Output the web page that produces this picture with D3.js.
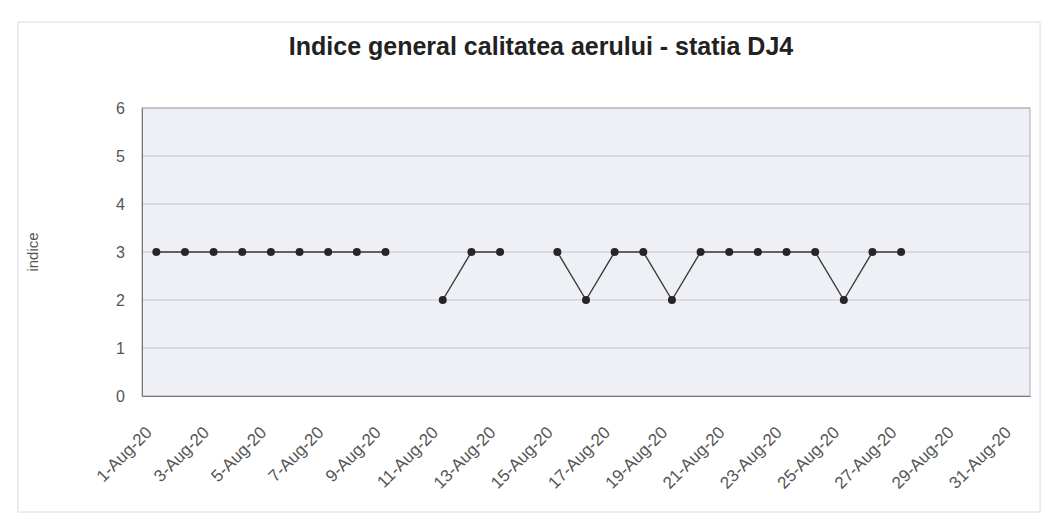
<!DOCTYPE html>
<html>
<head>
<meta charset="utf-8">
<script src="https://cdn.jsdelivr.net/npm/d3@7"></script>
<style>
  body { margin: 0; background: #fff; }
  svg { display: block; }
</style>
</head>
<body>
<div id="chart"></div>
<script>
// days of august 2020, null = no measurement
var days = d3.range(1, 32);
var dayLabels = days.map(function(d) { return d + "-Aug-20"; });
var indexValues = [3, 3, 3, 3, 3, 3, 3, 3, 3, null,
                   2, 3, 3, null, 3, 2, 3, 3, 2, 3,
                   3, 3, 3, 3, 2, 3, 3, null, null, null, null];
var yTicks = [0, 1, 2, 3, 4, 5, 6];

var width = 1049, height = 527;
var margin = { top: 108, right: 19, bottom: 131, left: 142 };
var plotW = width - margin.left - margin.right,
  plotH = height - margin.top - margin.bottom;

var svg = d3.select("#chart").append("svg")
  .attr("width", width)
  .attr("height", height);

// faint outer frame
svg.append("rect")
  .attr("x", 18).attr("y", 22)
  .attr("width", 1022).attr("height", 490)
  .attr("fill", "none")
  .attr("stroke", "#dcdcdc")
  .attr("stroke-width", 1);

svg.append("text")
  .attr("x", 541)
  .attr("y", 55)
  .attr("text-anchor", "middle")
  .attr("font-family", "Liberation Sans, Arial, sans-serif")
  .attr("font-weight", "bold")
  .attr("font-size", 25)
  .attr("fill", "#222")
  .text("Indice general calitatea aerului -  statia DJ4");

var g = svg.append("g")
  .attr("transform", "translate(" + margin.left + "," + margin.top + ")");

var x = d3.scaleBand()
  .domain(dayLabels)
  .range([0, plotW])
  .padding(0);

var y = d3.scaleLinear()
  .domain([0, 6])
  .range([plotH, 0]);

g.append("rect")
  .attr("width", plotW)
  .attr("height", plotH)
  .attr("fill", "#eef0f5");

g.selectAll("line.grid")
  .data(yTicks.slice(1))
  .enter().append("line")
  .attr("class", "grid")
  .attr("x1", 0).attr("x2", plotW)
  .attr("y1", function(d) { return y(d); })
  .attr("y2", function(d) { return y(d); })
  .attr("stroke", "#c4c6cc")
  .attr("stroke-width", 1);

g.append("rect")
  .attr("width", plotW)
  .attr("height", plotH)
  .attr("fill", "none")
  .attr("stroke", "#a9abb0")
  .attr("stroke-width", 1);

// y axis
var yAxis = g.append("g")
  .call(d3.axisLeft(y).tickValues(yTicks).tickFormat(d3.format("d")).tickSize(0).tickPadding(17));
yAxis.select(".domain").attr("stroke", "#777");
yAxis.selectAll("text")
  .attr("font-family", "Liberation Sans, Arial, sans-serif")
  .attr("font-size", 16)
  .attr("fill", "#555");

svg.append("text")
  .attr("transform", "translate(38," + (margin.top + plotH / 2) + ") rotate(-90)")
  .attr("text-anchor", "middle")
  .attr("font-family", "Liberation Sans, Arial, sans-serif")
  .attr("font-size", 15)
  .attr("fill", "#555")
  .text("indice");

// x axis, every second day labelled
var xAxis = g.append("g")
  .attr("transform", "translate(0," + plotH + ")")
  .call(d3.axisBottom(x)
    .tickValues(dayLabels.filter(function(d, i) { return i % 2 == 0; }))
    .tickSize(0));
xAxis.select(".domain").attr("stroke", "#777");
xAxis.selectAll(".tick")
  .attr("transform", function(d) { return "translate(" + (x(d) + x.bandwidth() / 2) + ",0)"; });
xAxis.selectAll("text")
  .attr("font-family", "Liberation Sans, Arial, sans-serif")
  .attr("font-size", 17)
  .attr("fill", "#555")
  .style("text-anchor", "end")
  .attr("x", 0)
  .attr("y", 0)
  .attr("dy", "0.71em")
  .attr("transform", "translate(-12,29) rotate(-45)");

var pts = days.map(function(d, i) {
  return { label: dayLabels[i], value: indexValues[i] };
});

var line = d3.line()
  .defined(function(d) { return d.value != null; })
  .x(function(d) { return x(d.label) + x.bandwidth() / 2; })
  .y(function(d) { return y(d.value); });

g.append("path")
  .datum(pts)
  .attr("d", line)
  .attr("fill", "none")
  .attr("stroke", "#3a3a3a")
  .attr("stroke-width", 1.4);

g.selectAll("circle.pt")
  .data(pts.filter(function(d) { return d.value != null; }))
  .enter().append("circle")
  .attr("class", "pt")
  .attr("cx", function(d) { return x(d.label) + x.bandwidth() / 2; })
  .attr("cy", function(d) { return y(d.value); })
  .attr("r", 4)
  .attr("fill", "#262626");
</script>
</body>
</html>
